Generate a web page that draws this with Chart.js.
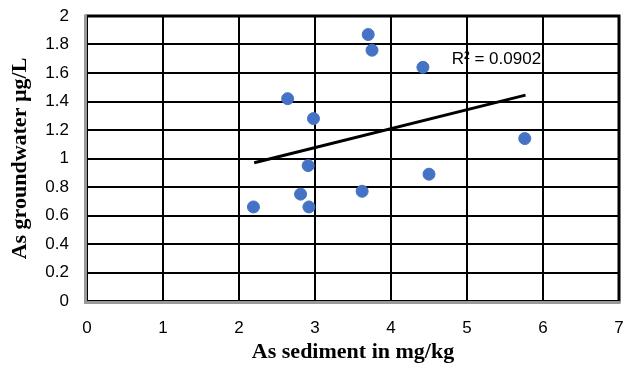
<!DOCTYPE html>
<html>
<head>
<meta charset="utf-8">
<script src="https://cdn.jsdelivr.net/npm/chart.js@4"></script>
<style>
  html, body { margin: 0; padding: 0; background: #fff; }
  #wrap { width: 626px; height: 366px; }
</style>
</head>
<body>
<div id="wrap"><canvas id="scatterChart"></canvas></div>
<script>
// data
const sedimentX = [2.19, 2.64, 2.81, 2.91, 2.92, 2.98, 3.62, 3.70, 3.75, 4.42, 4.50, 5.76]
const groundwaterY = [0.66, 1.42, 0.75, 0.95, 0.66, 1.28, 0.77, 1.87, 1.76, 1.64, 0.89, 1.14]
const trendX = [2.2, 5.77]
const trendY = [0.97, 1.445]
const rSquaredLabel = 'R² = 0.0902'
const xTicks = [0, 1, 2, 3, 4, 5, 6, 7]
const yTicks = [0, 0.2, 0.4, 0.6, 0.8, 1, 1.2, 1.4, 1.6, 1.8, 2]

const points = sedimentX.map((x, i) => ({ x: x, y: groundwaterY[i] }))
const trendPoints = trendX.map((x, i) => ({ x: x, y: trendY[i] }))

// R² text next to the trend line end
const rSquaredText = {
    id: 'rSquaredText',
    afterDatasetsDraw(chart) {
        const ctx = chart.ctx
        const xs = chart.scales.x
        const ys = chart.scales.y
        ctx.save()
        ctx.font = '17px "Liberation Sans", Arial, sans-serif'
        ctx.fillStyle = '#000'
        ctx.textBaseline = 'middle'
        ctx.textAlign = 'left'
        ctx.fillText(rSquaredLabel, xs.getPixelForValue(4.8), ys.getPixelForValue(1.695))
        ctx.restore()
    }
}

// inset style frame: black top/right, gray left/bottom with thin black inner line
const plotFrame = {
    id: 'plotFrame',
    beforeDatasetsDraw(chart) {
        const { left, right, top, bottom } = chart.chartArea
        const ctx = chart.ctx
        ctx.save()
        ctx.lineCap = 'square'
        ctx.strokeStyle = '#000'
        ctx.lineWidth = 3
        ctx.beginPath()
        ctx.moveTo(left, top)
        ctx.lineTo(right, top)
        ctx.lineTo(right, bottom)
        ctx.stroke()
        ctx.strokeStyle = '#999'
        ctx.lineWidth = 3
        ctx.beginPath()
        ctx.moveTo(left - 1.5, top)
        ctx.lineTo(left - 1.5, bottom + 1.5)
        ctx.lineTo(right, bottom + 1.5)
        ctx.stroke()
        ctx.strokeStyle = '#000'
        ctx.lineWidth = 1
        ctx.beginPath()
        ctx.moveTo(left + 0.5, top)
        ctx.lineTo(left + 0.5, bottom - 0.5)
        ctx.lineTo(right, bottom - 0.5)
        ctx.stroke()
        ctx.restore()
    }
}

const tickFont = { size: 17, family: '"Liberation Sans", Arial, sans-serif' }
const titleFont = { size: 22, weight: 'bold', family: '"Liberation Serif", "Times New Roman", serif' }

new Chart(document.getElementById('scatterChart').getContext('2d'), {
    type: 'scatter',
    data: {
        datasets: [
            {
                data: points,
                backgroundColor: '#4472C4',
                borderColor: '#4472C4',
                pointRadius: 6,
                pointHoverRadius: 6
            },
            {
                type: 'line',
                data: trendPoints,
                borderColor: '#000',
                borderWidth: 3,
                pointRadius: 0,
                fill: false
            }
        ]
    },
    options: {
        responsive: true,
        maintainAspectRatio: false,
        animation: false,
        layout: { padding: { top: 16, right: -2, left: 0, bottom: 0 } },
        plugins: {
            legend: { display: false },
            tooltip: { enabled: false }
        },
        scales: {
            x: {
                type: 'linear',
                min: 0,
                max: 7,
                afterBuildTicks: (scale) => { scale.ticks = xTicks.map(v => ({ value: v })) },
                afterFit: (scale) => {
                    scale.height = 65
                    scale.paddingLeft = 0
                    scale.paddingRight = 0
                },
                grid: { color: '#000', lineWidth: 2, drawTicks: false },
                border: { display: false },
                ticks: { color: '#000', font: tickFont, padding: 17, callback: (v) => String(v) },
                title: {
                    display: true,
                    text: 'As sediment in mg/kg',
                    color: '#000',
                    font: titleFont,
                    padding: { top: 0, bottom: 0 }
                }
            },
            y: {
                min: 0,
                max: 2,
                afterBuildTicks: (scale) => { scale.ticks = yTicks.map(v => ({ value: v })) },
                afterFit: (scale) => {
                    scale.width = 87
                    scale.paddingTop = 0
                    scale.paddingBottom = 0
                },
                grid: { color: '#000', lineWidth: 2, drawTicks: false },
                border: { display: false },
                ticks: { color: '#000', font: tickFont, padding: 18, callback: (v) => String(v) },
                title: {
                    display: true,
                    text: 'As groundwater µg/L',
                    color: '#000',
                    font: titleFont,
                    padding: { top: 7, bottom: 0 }
                }
            }
        }
    },
    plugins: [plotFrame, rSquaredText]
})
</script>
</body>
</html>
